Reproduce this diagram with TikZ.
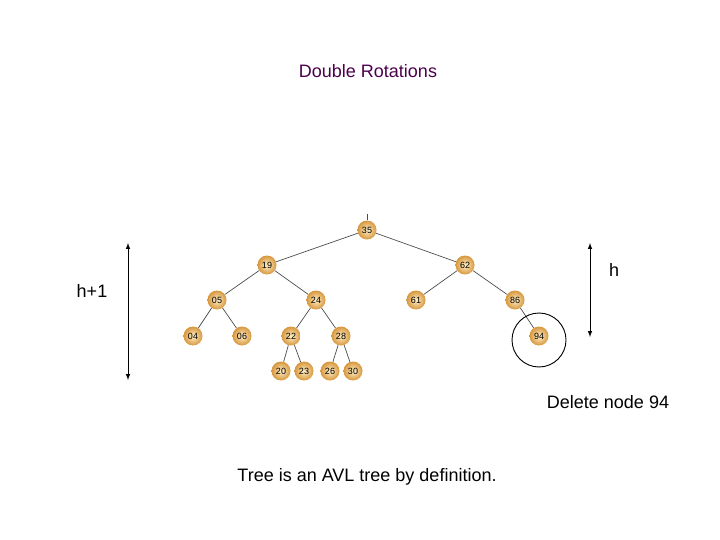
\documentclass[tikz,border=0pt]{standalone}
\usepackage{fontspec}
\setmainfont{Liberation Sans}
\definecolor{goldin}{RGB}{255,240,200}
\definecolor{goldout}{RGB}{215,150,60}
\begin{document}
\begin{tikzpicture}[x=1pt,y=-1pt,
 nd/.style={circle,inner sep=0pt,minimum size=19pt,inner color=goldin,outer color=goldout,font=\fontsize{9}{10}\selectfont},
 ed/.style={draw=black!70,line width=0.7pt},
 arr/.style={<->,>=latex,line width=1pt}]
\useasboundingbox (0,0) rectangle (720,540);
\node[text=violet!60!black,font=\fontsize{18}{21}\selectfont] (title) at (368,71) {Double Rotations};
\coordinate (top) at (367,214);
\foreach \n/\x/\y in {35/367/230,19/267/265,62/465/265,05/217/300,24/316/300,61/416/300,86/515/300,04/193/336,06/242/336,22/291/336,28/341/336,94/539/336,20/281/371,23/304/371,26/330/371,30/353/371}
  \node[nd] (n\n) at (\x,\y) {\n};
\foreach \a/\b in {35/19,35/62,19/05,19/24,62/61,62/86,05/04,05/06,24/22,24/28,86/94,22/20,22/23,28/26,28/30}
  \draw[ed] (n\a) -- (n\b);
\draw[ed] (top) -- (n35);
\node[draw,circle,minimum size=54pt,line width=0.9pt] (ring) at (539,340) {};
\coordinate (la) at (128,243); \coordinate (lb) at (128,380);
\coordinate (ra) at (590,243); \coordinate (rb) at (590,337);
\draw[arr] (la) -- (lb);
\draw[arr] (ra) -- (rb);
\node[font=\fontsize{18}{21}\selectfont] (h1) at (92,291) {h+1};
\node[font=\fontsize{18}{21}\selectfont] (h) at (614,270) {h};
\node[font=\fontsize{18}{21}\selectfont] (del) at (608,402) {Delete node 94};
\node[font=\fontsize{18}{21}\selectfont] (avl) at (367,477) {Tree is an AVL tree by definition.};
\end{tikzpicture}
\end{document}
